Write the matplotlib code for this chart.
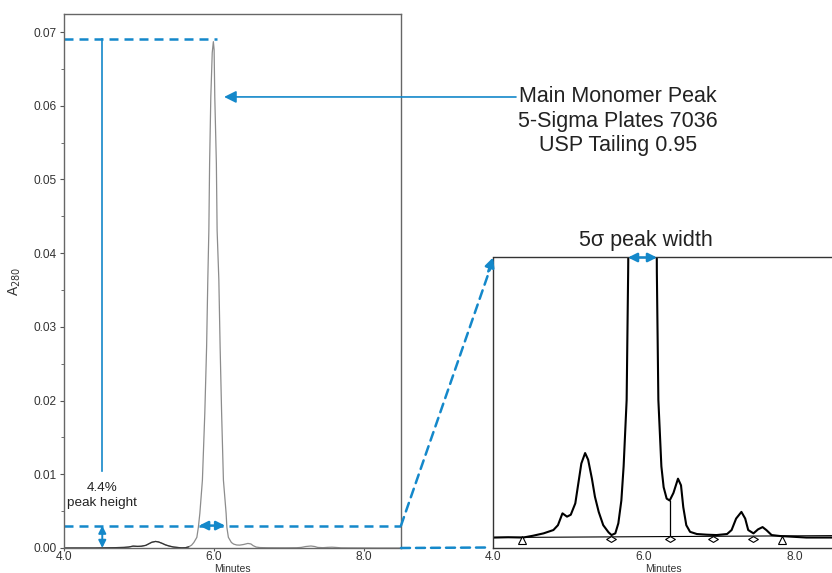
import matplotlib
matplotlib.use("Agg")
import matplotlib.pyplot as plt
import numpy as np
from matplotlib.patches import ConnectionPatch
from matplotlib.path import Path

plt.rcParams['font.family'] = ['Liberation Sans', 'DejaVu Sans']

# chromatogram: time (min), A280
minutes = [4.00, 4.20, 4.40, 4.53, 4.67, 4.80, 4.86, 4.92, 4.98, 5.03,
           5.09, 5.13, 5.17, 5.22, 5.26, 5.31, 5.35, 5.40, 5.46, 5.53,
           5.57, 5.62, 5.66, 5.70, 5.73, 5.75, 5.77, 5.79, 5.81, 5.844,
           5.876, 5.90, 5.916, 5.93, 5.94, 5.956, 5.975, 5.99, 6.00, 6.009,
           6.03, 6.04, 6.063, 6.08, 6.10, 6.124, 6.16, 6.17, 6.19, 6.21,
           6.23, 6.26, 6.30, 6.34, 6.39, 6.45, 6.49, 6.52, 6.56, 6.61,
           6.70, 6.83, 6.96, 7.10, 7.16, 7.22, 7.29, 7.34, 7.38, 7.45,
           7.51, 7.57, 7.62, 7.69, 7.80, 8.15, 8.50]
absorbance = [0.0, 0.000003, 0.0, 0.000019, 0.000044, 0.000079, 0.00013, 0.000255, 0.00022, 0.00024,
              0.00036, 0.00057, 0.00078, 0.00089, 0.00082, 0.00062, 0.00043, 0.00027, 0.00013, 0.000055,
              0.000026, 0.000044, 0.00015, 0.00039, 0.00075, 0.0011, 0.00145, 0.0028, 0.0047, 0.0092,
              0.0183, 0.0273, 0.0364, 0.0431, 0.0522, 0.0612, 0.0672, 0.0687, 0.0676, 0.0612,
              0.0522, 0.0431, 0.0364, 0.0273, 0.0183, 0.0092, 0.0047, 0.0028, 0.00145, 0.0011,
              0.00075, 0.00053, 0.00041, 0.00039, 0.00047, 0.00062, 0.00055, 0.00032, 0.00013, 0.00006,
              0.000037, 0.00003, 0.000026, 0.000037, 0.000079, 0.0002, 0.00027, 0.0002, 0.000079, 0.000044,
              0.000086, 0.00011, 0.000079, 0.000026, 0.000016, 0.0, 0.0]

# integration baseline and peak marks of the zoomed trace
baseline_t = [4.0, 8.50]
baseline_a = [0.0, 0.00002]
tri_marks = [4.39, 7.83]
dia_marks = [5.56, 6.34, 6.92, 7.45]
drop_t = 6.34
drop_top = 0.00039

peak_top = 0.069
five_sigma = 0.00304   # 4.4% of peak height
width_left, width_right = 5.80, 6.147

blue = '#1488ca'
txt = '#222222'

fig = plt.figure(figsize=(8.32, 5.73), dpi=100)
ax1 = fig.add_axes([64/832, 25/573, 337/832, 534/573])
ax2 = fig.add_axes([493/832, 25.5/573, 340/832, 290/573])

t = np.array(minutes)
a = np.array(absorbance)

# ---- full chromatogram
ax1.plot(t, a, color='#8c8c8c', lw=0.9)
low = t < 5.68
ax1.plot(t[low], a[low], color='#333333', lw=0.9)
ax1.set_xlim(4.0, 8.49)
ax1.set_ylim(0, 0.07245)
ax1.set_xticks([4.0, 6.0, 8.0])
ax1.set_xticklabels(['4.0', '6.0', '8.0'])
ax1.set_yticks(np.arange(0, 0.0701, 0.01))
ax1.set_yticklabels(['%.2f' % v for v in np.arange(0, 0.0701, 0.01)])
ax1.set_yticks(np.arange(0.005, 0.07, 0.01), minor=True)
ax1.tick_params(labelsize=8.6, labelcolor='#333333', length=3, color='#555555', pad=2)
ax1.tick_params(axis='x', length=2, pad=0.5)
ax1.tick_params(which='minor', length=2, color='#555555')
ax1.set_xlabel('Minutes', fontsize=7.5, color='#333333')
ax1.xaxis.set_label_coords(0.5, -(564 - 548) / 534)
ax1.set_ylabel('A$_{280}$', fontsize=10, color='#333333', labelpad=8)
for s in ax1.spines.values():
    s.set_color('#666666')
    s.set_linewidth(1.0)

# ---- zoomed chromatogram
ax2.plot(t, a, color='black', lw=1.5)
ax2.plot(baseline_t, baseline_a, color='black', lw=0.8)
ax2.plot([drop_t, drop_t], [0.000012, drop_top], color='black', lw=0.9)
ax2.plot(tri_marks, [-0.00003]*len(tri_marks), ls='none', marker='^', ms=6,
         mfc='white', mec='black', mew=0.8)
flat_diamond = Path([(-1, 0), (0, 0.6), (1, 0), (0, -0.6), (-1, 0)])
ax2.plot(dia_marks, [-0.00002]*len(dia_marks), ls='none', marker=flat_diamond, ms=7,
         mfc='white', mec='black', mew=0.8)
ax2.set_xlim(4.0, 8.503)
ax2.set_ylim(-0.000105, 0.00295)
ax2.set_xticks([4.0, 6.0, 8.0])
ax2.set_xticklabels(['4.0', '6.0', '8.0'])
ax2.set_yticks([])
ax2.tick_params(labelsize=8.6, labelcolor='#333333', length=0, pad=2.5)
ax2.set_xlabel('Minutes', fontsize=7.5, color='#333333')
ax2.xaxis.set_label_coords(0.5, -(564 - 547.5) / 290)
for s in ax2.spines.values():
    s.set_color('#333333')
    s.set_linewidth(1.0)

# ---- blue annotations
dash = (0, (3.6, 2.4))
ax1.plot([4.0, 6.04], [peak_top, peak_top], color=blue, lw=1.8, ls=dash, clip_on=False)
ax1.plot([4.51, 4.51], [peak_top, 0.0104], color=blue, lw=1.2)
ax1.text(4.51, 0.0071, '4.4%\npeak height', ha='center', va='center', fontsize=9.7,
         color=txt, linespacing=1.3)
ax1.plot([4.0, 8.49], [five_sigma, five_sigma], color=blue, lw=1.8, ls=dash, clip_on=False)

arrow2 = dict(arrowstyle='<|-|>', color=blue, lw=1.8, mutation_scale=13, shrinkA=0, shrinkB=0)
ax1.annotate('', xy=(4.51, 0.0), xytext=(4.51, five_sigma),
             arrowprops=dict(arrowstyle='<|-|>', color=blue, lw=1.4, mutation_scale=11,
                             shrinkA=0, shrinkB=0),
             annotation_clip=False)
ax1.annotate('', xy=(width_right, five_sigma), xytext=(width_left, five_sigma), arrowprops=arrow2)

ax1.annotate('', xy=(6.133, 0.0612), xytext=(516/832, 1 - 97/573), textcoords='figure fraction',
             arrowprops=dict(arrowstyle='-|>', color=blue, lw=1.2, mutation_scale=18,
                             shrinkA=0, shrinkB=0))
fig.text(618/832, 1 - 121/573, 'Main Monomer Peak\n5-Sigma Plates 7036\nUSP Tailing 0.95',
         ha='center', va='center', fontsize=15.5, color=txt, linespacing=1.2)

# link lines from the full trace to the zoomed panel
con = ConnectionPatch(xyA=(8.49, five_sigma), coordsA=ax1.transData,
                      xyB=(4.0, 0.00292), coordsB=ax2.transData,
                      color=blue, lw=1.8, ls=dash)
fig.add_artist(con)
ax2.annotate('', xy=(0.0, 1.0), xycoords='axes fraction', xytext=(-3.4, -10),
             textcoords='offset points', annotation_clip=False,
             arrowprops=dict(arrowstyle='-|>', color=blue, lw=1.8, mutation_scale=14,
                             shrinkA=0, shrinkB=0))
con2 = ConnectionPatch(xyA=(8.49, 0.0), coordsA=ax1.transData,
                       xyB=(3.95, -0.000105), coordsB=ax2.transData,
                       color=blue, lw=1.8, ls=dash)
fig.add_artist(con2)

ax2.annotate('', xy=(6.172, 1.0), xycoords=ax2.get_xaxis_transform(),
             xytext=(5.788, 1.0), textcoords=ax2.get_xaxis_transform(),
             arrowprops=arrow2, annotation_clip=False)
ax2.text(6.03, 1.06, '5\u03c3 peak width', transform=ax2.get_xaxis_transform(),
         ha='center', va='center', fontsize=15.5, color=txt)

fig.savefig('out.png', dpi=100)
